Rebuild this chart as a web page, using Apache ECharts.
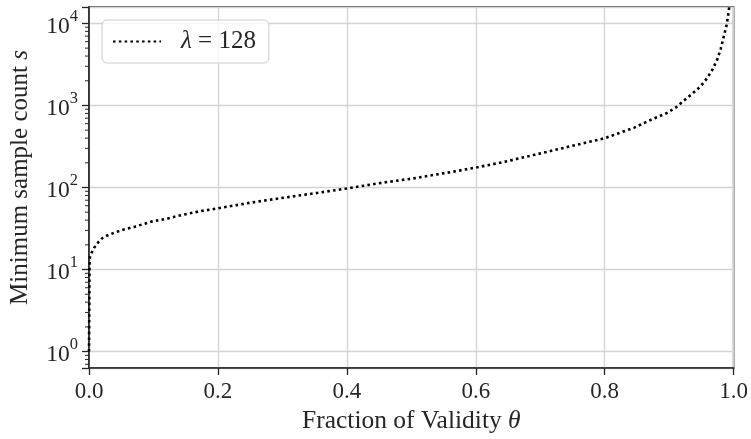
<!DOCTYPE html>
<html>
<head>
<meta charset="utf-8">
<script src="https://cdn.jsdelivr.net/npm/echarts@6/dist/echarts.min.js"></script>
<style>
  html, body { margin: 0; padding: 0; background: #fff; }
  #chart { width: 751px; height: 439px; }
</style>
</head>
<body>
<div id="chart"></div>
<script>
// Fraction of validity (x) and the minimum sample count it requires (y, log scale)
const theta = [0, 0.0008, 0.0015, 0.004, 0.008, 0.0145, 0.022, 0.0365, 0.053, 0.071,
  0.097, 0.1225, 0.148, 0.174, 0.2, 0.251, 0.303, 0.354, 0.4, 0.457,
  0.5, 0.563, 0.6, 0.64, 0.691, 0.743, 0.8, 0.846, 0.871, 0.897,
  0.91, 0.923, 0.936, 0.949, 0.959, 0.967, 0.975, 0.98, 0.985, 0.989,
  0.991, 0.9935];
const sampleCount = [1, 11, 14.5, 16, 18.4, 21.6, 24.8, 27.6, 30.6, 33.3,
  38.4, 42, 47, 51.7, 55.7, 65.4, 75.3, 85.9, 97.3, 115,
  128, 155, 175, 202, 250, 313, 399, 537, 665, 812,
  940, 1150, 1390, 1720, 2160, 2720, 3700, 4900, 7100, 9450,
  11900, 16500];
const seriesName = 'λ = 128';

const xTicks = [0, 0.2, 0.4, 0.6, 0.8, 1.0];
const yDecades = [0, 1, 2, 3, 4];
const yMin = 0.631, yMax = 15850;

const FONT = '"Liberation Serif", "DejaVu Serif", serif';
const INK = '#262626';

// minor ticks at 2..9 × 10^k inside the visible range
const minorTickValues = [];
for (let k = -1; k <= 4; k++) {
  for (let m = 2; m <= 9; m++) {
    const v = m * Math.pow(10, k);
    if (v > yMin && v < yMax) minorTickValues.push(v);
  }
}

const chart = echarts.init(document.getElementById('chart'), null, { renderer: 'canvas' });

chart.setOption({
  backgroundColor: '#ffffff',
  animation: false,
  textStyle: { fontFamily: FONT, color: INK },
  grid: {
    left: 89, right: 14.5, top: 7, bottom: 71,
    show: true, borderColor: INK, borderWidth: 1.6, backgroundColor: 'transparent'
  },
  legend: {
    left: 102, top: 20,
    orient: 'vertical',
    padding: [9, 13, 9, 10],
    borderColor: '#cccccc', borderWidth: 1, borderRadius: 5,
    backgroundColor: 'rgba(255,255,255,0.8)',
    itemWidth: 48, itemHeight: 23,
    itemStyle: { color: 'rgba(0,0,0,0)', borderWidth: 0, opacity: 0 },
    formatter: function () { return '{i|λ} = 128'; },
    textStyle: {
      fontFamily: FONT, fontSize: 25, color: INK, padding: [0, 0, 0, 15],
      rich: { i: { fontFamily: FONT, fontSize: 25, fontStyle: 'italic', color: INK } }
    },
    data: [seriesName]
  },
  xAxis: {
    type: 'value', min: 0, max: 1, interval: 0.2,
    name: 'Fraction of Validity {i|θ}',
    nameLocation: 'middle', nameGap: 40,
    nameTextStyle: {
      fontFamily: FONT, fontSize: 25.5, color: INK,
      rich: { i: { fontFamily: FONT, fontSize: 25.5, fontStyle: 'italic', color: INK } }
    },
    axisLine: { show: true, lineStyle: { color: INK, width: 1.6 } },
    axisTick: { show: true, length: 7, lineStyle: { color: INK, width: 1.3 } },
    axisLabel: {
      margin: 12, fontFamily: FONT, fontSize: 23, color: INK,
      formatter: v => v.toFixed(1)
    },
    splitLine: { show: true, lineStyle: { color: '#d3d3d3', width: 1.3 } }
  },
  yAxis: {
    type: 'log', logBase: 10, min: yMin, max: yMax,
    name: 'Minimum sample count {i|s}',
    nameLocation: 'middle', nameGap: 56,
    nameTextStyle: {
      fontFamily: FONT, fontSize: 25, color: INK, padding: [0, 0, 0, 20],
      rich: { i: { fontFamily: FONT, fontSize: 25, fontStyle: 'italic', color: INK } }
    },
    axisLine: { show: true, lineStyle: { color: INK, width: 1.6 } },
    axisTick: { show: true, length: 7, lineStyle: { color: INK, width: 1.3 } },
    minorTick: { show: false },
    axisLabel: {
      margin: 11, fontFamily: FONT, color: INK,
      formatter: function (v) {
        const e = Math.round(Math.log10(v));
        if (Math.abs(Math.log10(v) - e) > 1e-6 || yDecades.indexOf(e) < 0) return '';
        return '{b|10}{sup|' + e + '}';
      },
      rich: {
        b: { fontFamily: FONT, fontSize: 23.5, color: INK, lineHeight: 30, verticalAlign: 'bottom' },
        sup: { fontFamily: FONT, fontSize: 16.5, color: INK, lineHeight: 30, verticalAlign: 'top' }
      }
    },
    splitLine: { show: true, lineStyle: { color: '#d3d3d3', width: 1.3 } }
  },
  series: [
    {
      name: seriesName,
      type: 'line',
      data: theta.map((t, i) => [t, sampleCount[i]]),
      showSymbol: false, symbol: 'none',
      smooth: false, clip: true,
      lineStyle: { color: '#000000', width: 2.6, type: [2.6, 3.2], cap: 'butt' },
      itemStyle: { color: '#000000' },
      z: 3
    },
    {
      // short outward minor ticks on the log axis
      type: 'custom',
      silent: true,
      data: minorTickValues.map(v => [0, v]),
      renderItem: function (params, api) {
        const p = api.coord([0, api.value(1)]);
        return {
          type: 'line',
          shape: { x1: p[0] - 4, y1: p[1], x2: p[0], y2: p[1] },
          style: { stroke: INK, lineWidth: 1 }
        };
      },
      clip: false,
      z: 4
    }
  ]
});
</script>
</body>
</html>
